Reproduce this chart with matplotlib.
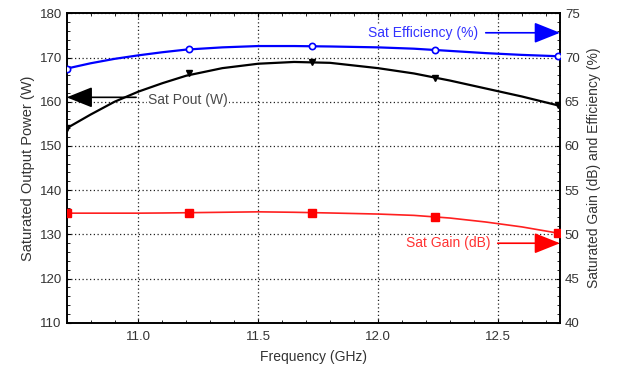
import matplotlib
matplotlib.use("Agg")
import matplotlib.pyplot as plt
from matplotlib.ticker import MultipleLocator

plt.rcParams['font.family'] = ['Liberation Sans', 'DejaVu Sans']

# измеренные точки
freq = [10.7, 11.2125, 11.725, 12.2375, 12.75]
pout = [154.0, 166.4, 168.9, 165.4, 159.2]
eff = [68.75, 70.95, 71.25, 70.85, 70.15]
gain = [52.4, 52.45, 52.45, 52.0, 50.15]

# сглаженные кривые
curve_freq = [10.7, 10.8, 10.9, 11.0, 11.1, 11.2, 11.35, 11.5, 11.65, 11.8,
              12.0, 12.15, 12.3, 12.45, 12.6, 12.75]
pout_curve = [154.0, 157.1, 160.0, 162.3, 164.2, 165.9, 167.6, 168.6, 169.0, 168.8,
              167.6, 166.4, 164.8, 163.0, 161.2, 159.2]
eff_curve = [68.75, 69.35, 69.85, 70.25, 70.6, 70.9, 71.15, 71.3, 71.3, 71.25,
             71.15, 71.0, 70.75, 70.5, 70.3, 70.15]
gain_curve = [52.4, 52.4, 52.4, 52.4, 52.42, 52.45, 52.5, 52.55, 52.5, 52.42,
              52.3, 52.15, 51.85, 51.4, 50.85, 50.15]

txt = '#333333'
fig = plt.figure(figsize=(6.17, 3.66), dpi=100)
ax = fig.add_axes([0.108, 0.118, 0.7996, 0.8456])
ax2 = ax.twinx()

# Мощность (левая ось)
ax.plot(curve_freq, pout_curve, color='black', lw=1.6, zorder=3)
ax.plot(freq, pout, ls='none', marker='v', ms=4.5, color='black', zorder=4)

# КПД и усиление (правая ось)
ax2.plot(curve_freq, eff_curve, color='#0000ff', lw=1.6, zorder=3)
ax2.plot(freq, eff, ls='none', marker='o', ms=4.5, mfc='white', mec='#0000ff', mew=1.2, zorder=4)
ax2.plot(curve_freq, gain_curve, color='#ff2020', lw=1.2, zorder=3)
ax2.plot(freq, gain, ls='none', marker='s', ms=5.5, color='#ff0000', zorder=4)

ax.set_xlim(10.7, 12.76)
ax.set_ylim(110, 180)
ax2.set_ylim(40, 75)

ax.xaxis.set_major_locator(MultipleLocator(0.5))
ax.xaxis.set_minor_locator(MultipleLocator(0.1))
ax.yaxis.set_major_locator(MultipleLocator(10))
ax.yaxis.set_minor_locator(MultipleLocator(2))
ax2.yaxis.set_major_locator(MultipleLocator(5))
ax2.yaxis.set_minor_locator(MultipleLocator(1))
ax.set_xticks([11.0, 11.5, 12.0, 12.5])
ax.set_xticklabels(['11.0', '11.5', '12.0', '12.5'])

ax.grid(True, which='major', color='#222222', ls=(0, (1, 2)), lw=0.9)
ax.tick_params(which='both', direction='in', top=True, labelsize=9.5, colors='black', labelcolor=txt)
ax.tick_params(which='major', length=3)
ax.tick_params(which='minor', length=2)
ax.tick_params(axis='x', pad=6)
ax2.tick_params(which='both', direction='in', labelsize=9.5, colors='black', labelcolor=txt)
ax2.tick_params(which='major', length=3)
ax2.tick_params(which='minor', length=2)

for a in (ax, ax2):
    for s in a.spines.values():
        s.set_linewidth(1.2)

ax.set_xlabel('Frequency (GHz)', fontsize=10, color=txt, labelpad=5)
ax.set_ylabel('Saturated Output Power (W)', fontsize=10.5, color=txt, labelpad=3)
ax2.set_ylabel('Saturated Gain (dB) and Efficiency (%)', fontsize=10, color=txt, labelpad=5)

# подписи со стрелками
arrow = dict(arrowstyle='-|>,head_length=1.0,head_width=0.4', mutation_scale=16, lw=1.2, shrinkA=0, shrinkB=0)
ax.annotate('', xy=(10.7, 161), xytext=(10.99, 161),
            arrowprops=dict(arrow, color='black'), annotation_clip=False)
ax.text(11.04, 160.3, 'Sat Pout (W)', fontsize=10, color='#4a4a4a', va='center', ha='left',
        bbox=dict(fc='white', ec='none', pad=1))
ax2.annotate('', xy=(12.76, 72.8), xytext=(12.45, 72.8),
             arrowprops=dict(arrow, color='#0000ff'), annotation_clip=False)
ax2.text(12.42, 72.8, 'Sat Efficiency (%)', fontsize=10, color='#3333ff', va='center', ha='right',
         bbox=dict(fc='white', ec='none', pad=1))
ax2.annotate('', xy=(12.76, 49.0), xytext=(12.50, 49.0),
             arrowprops=dict(arrow, color='#ff0000'), annotation_clip=False)
ax2.text(12.47, 49.0, 'Sat Gain (dB)', fontsize=10, color='#ff3333', va='center', ha='right',
         bbox=dict(fc='white', ec='none', pad=1))

fig.savefig('out.png', dpi=100)
